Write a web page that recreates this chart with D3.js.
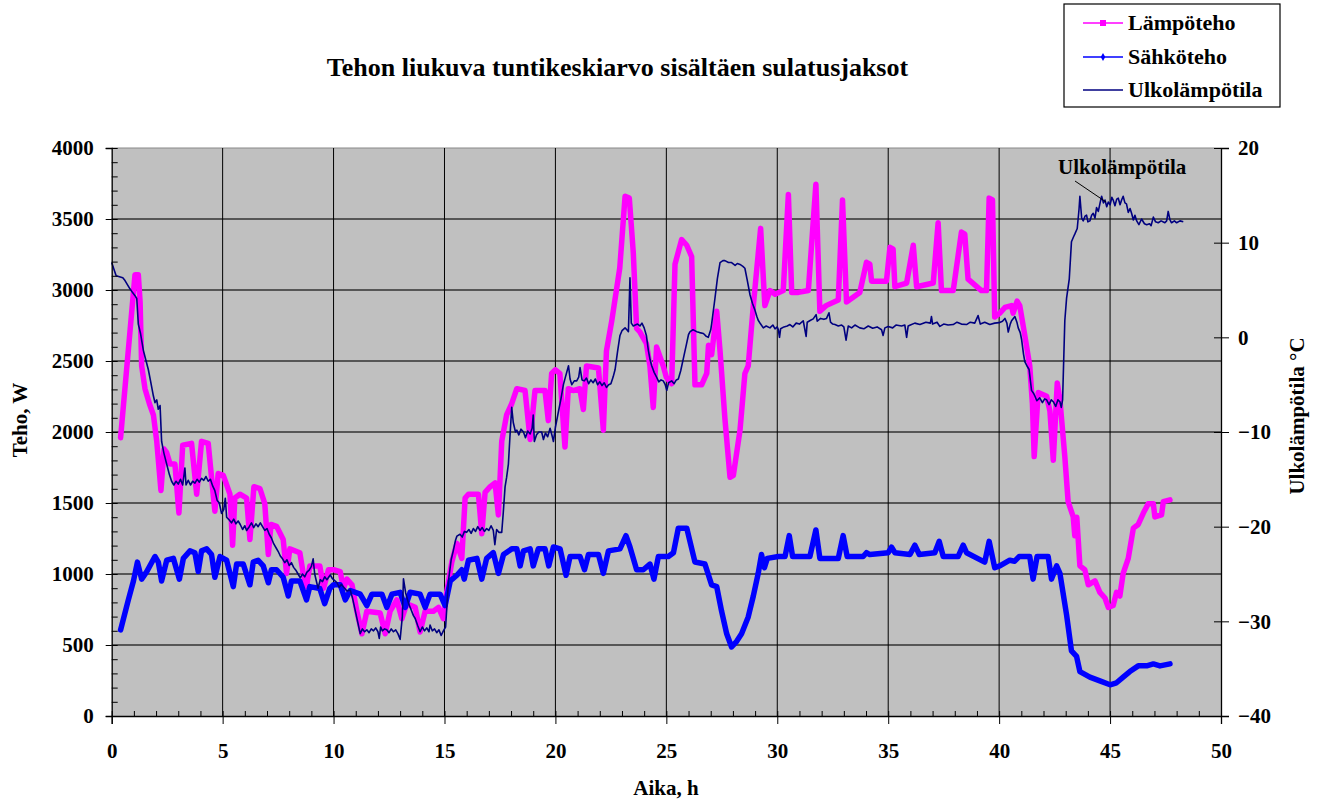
<!DOCTYPE html>
<html><head><meta charset="utf-8">
<script src="https://cdn.jsdelivr.net/npm/d3@7"></script>
<style>
body{margin:0;background:#fff;}
text{font-family:"Liberation Serif","Times New Roman",serif;font-weight:bold;fill:#000;}
</style></head>
<body>
<svg id="c" width="1319" height="802"></svg>
<script>
// ---- data ----
const titleText = "Tehon liukuva tuntikeskiarvo sisältäen sulatusjaksot";
const seriesNames = ["Lämpöteho", "Sähköteho", "Ulkolämpötila"];
const xTicks = [0,5,10,15,20,25,30,35,40,45,50];
const leftTicks = [0,500,1000,1500,2000,2500,3000,3500,4000];
const rightTicks = [-40,-30,-20,-10,0,10,20];

// Lämpöteho [h, W]
const lampoteho = [[0.4,1960],[1.05,3107],[1.2,3107],[1.28,2916],[1.35,2465],[1.5,2305],[1.7,2199],[1.88,2120],[2.03,1934],[2.22,1588],[2.36,1880],[2.48,1854],[2.63,1774],[2.85,1774],[3.03,1429],[3.2,1907],[3.6,1920],[3.83,1562],[4.05,1934],[4.35,1920],[4.65,1442],[4.8,1708],[5.03,1695],[5.33,1562],[5.45,1203],[5.55,1535],[5.78,1562],[6.08,1535],[6.23,1243],[6.41,1615],[6.68,1602],[6.9,1495],[7.06,1137],[7.18,1349],[7.43,1336],[7.73,1243],[7.88,1004],[8.03,1177],[8.48,1150],[8.63,1004],[8.78,911],[8.93,1057],[9.38,1057],[9.55,900],[9.77,1030],[10.0,1030],[10.3,1017],[10.45,898],[10.6,964],[10.83,924],[11.05,738],[11.28,579],[11.5,738],[12.1,725],[12.33,579],[12.55,738],[12.85,818],[13.08,685],[13.3,791],[13.68,765],[13.9,592],[14.13,738],[14.5,738],[14.73,765],[14.95,685],[15.1,871],[15.33,1084],[15.56,1216],[15.78,1110],[15.93,1535],[16.08,1562],[16.53,1562],[16.68,1283],[16.83,1575],[17.06,1615],[17.28,1641],[17.43,1416],[17.58,1934],[17.8,2120],[18.03,2199],[18.26,2305],[18.63,2292],[18.86,1947],[19.08,2292],[19.53,2292],[19.68,2080],[19.83,2412],[20.0,2438],[20.2,2412],[20.43,1894],[20.58,2305],[20.8,2292],[21.1,2305],[21.26,2159],[21.4,2465],[21.94,2451],[22.16,2013],[22.3,2571],[22.54,2783],[22.9,3155],[23.14,3660],[23.33,3647],[23.51,3262],[23.66,2730],[23.81,2704],[24.1,2624],[24.26,2465],[24.41,2173],[24.56,2598],[24.86,2465],[25.0,2385],[25.24,2340],[25.39,3182],[25.69,3355],[25.92,3315],[26.14,3235],[26.29,2332],[26.59,2332],[26.82,2412],[26.9,2611],[27.04,2544],[27.27,2850],[27.42,2571],[27.64,2093],[27.87,1681],[28.02,1695],[28.32,2013],[28.54,2412],[28.69,2465],[28.92,2890],[29.25,3434],[29.44,2890],[29.67,2996],[29.9,2970],[30.27,2996],[30.5,3673],[30.65,2983],[30.95,2983],[31.4,2996],[31.74,3745],[31.92,2850],[32.2,2890],[32.75,2930],[32.94,3634],[33.12,2916],[33.72,2983],[34.02,3195],[34.17,3182],[34.25,3062],[34.92,3062],[35.08,3301],[35.22,3288],[35.3,3023],[35.83,3049],[36.13,3315],[36.28,3023],[37.03,3049],[37.25,3474],[37.4,2996],[37.93,2996],[38.3,3408],[38.45,3394],[38.6,3076],[39.2,2996],[39.43,2996],[39.55,3647],[39.7,3634],[39.8,2810],[40.03,2837],[40.26,2877],[40.56,2890],[40.63,2837],[40.81,2922],[40.93,2890],[41.16,2677],[41.38,2465],[41.5,2199],[41.58,1827],[41.76,2279],[42.14,2252],[42.29,2146],[42.44,1801],[42.62,2345],[42.74,2226],[42.96,1827],[43.11,1509],[43.34,1402],[43.41,1270],[43.5,1400],[43.64,1057],[43.86,1030],[44.02,924],[44.32,951],[44.54,871],[44.77,831],[44.92,765],[45.14,778],[45.29,871],[45.44,845],[45.59,1004],[45.82,1110],[46.05,1323],[46.27,1349],[46.5,1429],[46.72,1495],[46.95,1495],[47.02,1402],[47.32,1416],[47.4,1509],[47.7,1522]];

// Sähköteho [h, W]
const sahkoteho = [[0.4,606],[0.75,818],[0.98,951],[1.16,1084],[1.35,964],[1.58,1017],[1.95,1123],[2.1,1084],[2.25,951],[2.48,1097],[2.78,1110],[3.05,964],[3.23,1110],[3.53,1163],[3.75,1150],[3.9,1017],[4.05,1163],[4.28,1177],[4.5,1137],[4.65,977],[4.88,1123],[5.18,1097],[5.48,911],[5.63,1070],[5.93,1070],[6.23,924],[6.38,1084],[6.6,1097],[6.83,1057],[7.06,938],[7.2,1030],[7.43,1030],[7.73,977],[7.96,845],[8.1,951],[8.48,951],[8.78,818],[8.93,911],[9.38,898],[9.6,791],[9.83,898],[10.0,924],[10.3,924],[10.53,818],[10.75,884],[11.2,858],[11.5,778],[11.73,858],[12.18,858],[12.4,765],[12.63,858],[13.0,871],[13.23,765],[13.45,871],[13.9,858],[14.13,765],[14.35,858],[14.8,858],[15.03,778],[15.26,951],[15.56,991],[15.78,1030],[15.89,964],[16.08,1097],[16.46,1110],[16.68,964],[16.9,1110],[17.2,1150],[17.43,1004],[17.66,1137],[18.03,1177],[18.26,1177],[18.41,1057],[18.56,1163],[18.86,1177],[19.0,1057],[19.23,1177],[19.53,1177],[19.7,1057],[19.91,1190],[20.21,1177],[20.48,991],[20.66,1123],[21.11,1123],[21.31,1030],[21.49,1137],[21.94,1137],[22.16,1004],[22.39,1163],[22.91,1177],[23.18,1270],[23.36,1190],[23.66,1030],[23.96,1030],[24.26,1070],[24.44,964],[24.64,1123],[25.09,1123],[25.32,1150],[25.54,1323],[25.92,1323],[26.29,1084],[26.74,1070],[27.04,924],[27.27,911],[27.49,738],[27.72,579],[27.94,486],[28.17,526],[28.39,579],[28.69,698],[28.92,845],[29.14,1004],[29.29,1137],[29.42,1044],[29.55,1110],[30.05,1123],[30.35,1123],[30.54,1270],[30.69,1123],[31.47,1123],[31.74,1310],[31.92,1110],[32.75,1110],[32.97,1270],[33.15,1123],[33.87,1123],[34.02,1150],[34.17,1137],[35.0,1150],[35.15,1190],[35.3,1150],[35.98,1137],[36.2,1203],[36.4,1137],[37.1,1150],[37.3,1230],[37.48,1123],[38.15,1123],[38.38,1203],[38.53,1150],[39.35,1084],[39.55,1230],[39.8,1044],[40.03,1057],[40.48,1097],[40.7,1090],[40.9,1123],[41.38,1123],[41.53,964],[41.71,1123],[42.21,1123],[42.36,964],[42.59,1057],[42.74,1004],[43.04,712],[43.26,459],[43.49,420],[43.64,313],[44.09,274],[44.54,247],[45.0,220],[45.29,234],[45.59,274],[45.89,313],[46.27,353],[46.65,353],[46.95,367],[47.25,353],[47.7,367]];

// Ulkolämpötila [h, °C]
const ulkolampotila = [[0.0,7.9],[0.1,7.2],[0.2,6.5],[0.35,6.4],[0.5,6.3],[0.6,6.0],[0.7,5.6],[0.83,5.1],[0.95,4.7],[1.05,4.4],[1.13,4.1],[1.2,1.4],[1.3,0.4],[1.43,-1.4],[1.55,-2.5],[1.65,-3.4],[1.75,-4.6],[1.88,-6.2],[1.95,-6.9],[2.03,-6.6],[2.1,-7.6],[2.18,-7.2],[2.25,-11],[2.35,-12.2],[2.48,-13.4],[2.6,-14.5],[2.7,-15.2],[2.8,-15.6],[2.9,-15.2],[3.0,-15.5],[3.1,-15.0],[3.2,-15.6],[3.3,-13.8],[3.35,-15.6],[3.45,-15.1],[3.55,-15.6],[3.65,-15.2],[3.75,-15.4],[3.85,-15.0],[3.95,-15.3],[4.05,-14.9],[4.15,-15.1],[4.25,-14.7],[4.35,-15.2],[4.45,-15.0],[4.55,-15.7],[4.65,-16.2],[4.75,-17.2],[4.85,-17.5],[4.95,-18.6],[5.05,-18.2],[5.12,-17.0],[5.18,-19.0],[5.3,-19.3],[5.4,-19.6],[5.5,-19.2],[5.6,-19.7],[5.7,-19.4],[5.8,-19.8],[5.9,-20.3],[6.0,-19.9],[6.08,-20.4],[6.2,-20.0],[6.3,-19.6],[6.4,-20.1],[6.5,-19.7],[6.6,-20.0],[6.7,-19.6],[6.8,-20.0],[6.9,-20.4],[7.0,-20.2],[7.1,-20.8],[7.2,-21.2],[7.3,-21.8],[7.4,-22.2],[7.5,-22.6],[7.6,-23.1],[7.7,-23.4],[7.8,-23.8],[7.9,-23.5],[8.0,-24.1],[8.1,-23.8],[8.2,-24.3],[8.3,-24.6],[8.4,-25.0],[8.5,-25.4],[8.6,-25.0],[8.7,-25.3],[8.8,-24.8],[8.9,-24.6],[9.0,-24.2],[9.08,-23.4],[9.15,-25.0],[9.3,-26.5],[9.4,-25.6],[9.5,-25.8],[9.6,-25.3],[9.7,-25.6],[9.85,-25.1],[9.95,-25.5],[10.05,-25.7],[10.15,-25.9],[10.25,-26.4],[10.35,-26.1],[10.5,-26.5],[10.6,-26.8],[10.75,-26.7],[10.85,-27.5],[10.98,-28.9],[11.1,-30.2],[11.2,-31.3],[11.3,-30.8],[11.4,-31.1],[11.5,-30.9],[11.6,-31.2],[11.7,-30.8],[11.8,-31.0],[11.9,-30.7],[12.0,-31.1],[12.06,-31.8],[12.12,-30.6],[12.2,-31.0],[12.3,-30.8],[12.4,-30.9],[12.5,-31.2],[12.6,-30.8],[12.7,-31.1],[12.8,-30.9],[12.9,-31.3],[13.0,-31.9],[13.1,-29.5],[13.15,-25.5],[13.25,-27.0],[13.38,-28.1],[13.5,-28.8],[13.6,-29.4],[13.68,-29.7],[13.8,-30.5],[13.9,-31.1],[14.0,-30.6],[14.1,-31.0],[14.2,-30.7],[14.3,-31.1],[14.35,-30.4],[14.45,-31.0],[14.55,-30.8],[14.65,-31.2],[14.75,-30.9],[14.85,-31.5],[14.95,-31.0],[15.05,-30.6],[15.18,-25.7],[15.3,-23.5],[15.4,-22.5],[15.5,-21.4],[15.56,-21.0],[15.7,-20.8],[15.8,-21.1],[15.9,-20.5],[16.0,-20.6],[16.1,-20.3],[16.2,-20.7],[16.3,-20.2],[16.4,-20.5],[16.5,-20.0],[16.6,-20.4],[16.7,-20.1],[16.8,-20.5],[16.9,-20.2],[17.0,-20.4],[17.1,-19.9],[17.2,-20.4],[17.27,-21.9],[17.35,-20.3],[17.45,-20.6],[17.58,-20.6],[17.65,-18.5],[17.73,-15.8],[17.8,-14.8],[17.88,-13.4],[17.95,-10.5],[18.03,-7.4],[18.1,-9.0],[18.2,-10.0],[18.26,-9.8],[18.35,-10.3],[18.45,-9.7],[18.56,-10.0],[18.65,-10.6],[18.75,-9.9],[18.86,-10.2],[18.95,-9.6],[19.0,-8.2],[19.05,-11.0],[19.15,-10.3],[19.25,-10.0],[19.38,-10.0],[19.46,-10.8],[19.55,-10.1],[19.65,-10.5],[19.76,-9.6],[19.85,-10.4],[19.91,-11.0],[20.0,-9.5],[20.14,-7.8],[20.25,-6.5],[20.36,-5.0],[20.45,-4.2],[20.59,-3.0],[20.66,-4.4],[20.74,-5.0],[20.85,-4.6],[20.96,-4.6],[21.05,-4.2],[21.11,-3.2],[21.2,-4.5],[21.3,-4.6],[21.4,-4.3],[21.5,-4.9],[21.6,-4.5],[21.7,-4.8],[21.8,-4.4],[21.9,-5.0],[22.0,-4.7],[22.1,-5.1],[22.2,-4.8],[22.3,-5.3],[22.4,-5.0],[22.5,-4.9],[22.6,-4.2],[22.69,-3.4],[22.8,-1.5],[22.91,0.2],[23.0,0.7],[23.14,1.0],[23.22,0.8],[23.29,0.6],[23.36,6.3],[23.42,1.5],[23.51,1.2],[23.6,1.3],[23.7,1.4],[23.81,1.2],[23.9,1.5],[24.0,1.0],[24.1,0.2],[24.19,-1.4],[24.27,-2.4],[24.34,-3.0],[24.45,-3.7],[24.56,-4.2],[24.66,-4.7],[24.76,-4.5],[24.86,-4.6],[24.95,-5.0],[25.02,-5.6],[25.1,-4.8],[25.24,-4.6],[25.35,-4.9],[25.45,-4.5],[25.54,-4.4],[25.65,-3.5],[25.77,-2.2],[25.9,-0.8],[26.0,0.3],[26.07,0.6],[26.2,0.8],[26.37,0.6],[26.5,0.5],[26.67,0.4],[26.8,0.1],[26.89,0.0],[27.0,0.8],[27.04,1.4],[27.19,4.1],[27.3,6.2],[27.42,7.9],[27.55,8.1],[27.64,8.1],[27.8,7.9],[27.94,7.9],[28.1,7.6],[28.2,7.8],[28.32,7.7],[28.45,7.5],[28.54,7.3],[28.65,6.0],[28.77,4.5],[28.88,3.6],[28.99,2.9],[29.08,2.2],[29.14,1.8],[29.25,1.4],[29.37,1.0],[29.5,1.2],[29.67,1.0],[29.8,1.3],[29.9,0.9],[30.0,1.1],[30.05,0.8],[30.1,0.0],[30.15,0.9],[30.3,1.1],[30.45,1.2],[30.57,1.35],[30.7,1.1],[30.85,1.5],[31.0,1.4],[31.17,1.75],[31.3,0.1],[31.35,1.6],[31.5,1.8],[31.62,1.95],[31.75,2.4],[31.8,1.7],[31.95,2.0],[32.1,1.9],[32.22,2.0],[32.33,2.6],[32.4,1.6],[32.5,1.4],[32.6,1.35],[32.75,1.2],[32.9,1.3],[33.0,1.1],[33.1,-0.3],[33.2,1.2],[33.35,1.0],[33.5,1.3],[33.72,1.0],[33.9,0.9],[34.1,1.2],[34.3,0.96],[34.5,1.1],[34.7,0.8],[34.77,0.2],[34.85,1.0],[35.0,1.15],[35.2,1.0],[35.35,1.3],[35.6,1.2],[35.75,1.3],[35.83,0.0],[35.9,1.2],[36.0,1.3],[36.2,1.5],[36.43,1.35],[36.7,1.6],[36.9,1.5],[36.95,2.2],[37.0,1.4],[37.2,1.6],[37.33,1.15],[37.5,1.4],[37.7,1.3],[37.93,1.35],[38.1,1.6],[38.3,1.4],[38.53,1.35],[38.7,1.6],[38.9,1.5],[39.05,2.3],[39.15,1.4],[39.35,1.6],[39.58,1.35],[39.8,1.5],[40.0,1.55],[40.15,1.7],[40.26,2.0],[40.35,1.5],[40.41,0.56],[40.5,1.4],[40.56,1.75],[40.71,2.2],[40.8,1.6],[40.86,1.0],[40.95,0.5],[41.01,-0.2],[41.1,-1.8],[41.16,-2.6],[41.25,-3.0],[41.35,-3.4],[41.46,-5.6],[41.55,-5.9],[41.61,-6.2],[41.7,-6.7],[41.83,-6.4],[41.95,-6.9],[42.05,-6.5],[42.14,-6.6],[42.25,-7.1],[42.35,-6.6],[42.44,-6.8],[42.55,-7.3],[42.65,-6.6],[42.74,-6.8],[42.8,-7.4],[42.86,-6.6],[42.96,1.75],[43.04,4.14],[43.16,6.14],[43.26,10.1],[43.35,10.6],[43.41,10.9],[43.52,11.5],[43.6,13.5],[43.64,14.9],[43.72,12.6],[43.79,12.3],[43.87,12.8],[43.94,12.9],[44.0,12.2],[44.09,12.3],[44.17,12.9],[44.24,13.1],[44.32,12.6],[44.39,13.7],[44.47,13.3],[44.55,14.2],[44.62,14.9],[44.7,14.2],[44.77,14.5],[44.85,13.8],[44.92,14.3],[45.0,14.0],[45.08,14.8],[45.14,14.5],[45.22,13.9],[45.3,14.6],[45.37,14.7],[45.45,14.0],[45.52,14.5],[45.59,14.9],[45.67,14.2],[45.74,14.1],[45.82,13.2],[45.9,13.6],[45.97,13.1],[46.05,12.4],[46.12,12.9],[46.2,12.3],[46.3,11.9],[46.42,12.5],[46.55,12.0],[46.65,11.9],[46.78,12.0],[46.85,11.8],[46.95,12.7],[47.05,12.2],[47.17,12.1],[47.3,12.3],[47.47,12.1],[47.55,12.3],[47.62,13.3],[47.7,12.4],[47.77,12.1],[47.9,12.3],[48.0,12.1],[48.15,12.3],[48.3,12.2]];

// ---- drawing ----
const svg = d3.select("#c");
const L = 111.7, R = 1221, T = 148, B = 716;
const x = d3.scaleLinear().domain([0,50]).range([L,R]);
const yL = d3.scaleLinear().domain([0,4000]).range([B,T]);
const yR = d3.scaleLinear().domain([-40,20]).range([B,T]);

svg.append("rect").attr("x",L).attr("y",T).attr("width",R-L).attr("height",B-T).attr("fill","#C0C0C0");

// horizontal grid
svg.append("g").selectAll("line").data(leftTicks.filter(d=>d>0&&d<4000)).join("line")
  .attr("x1",L).attr("x2",R).attr("y1",d=>yL(d)).attr("y2",d=>yL(d))
  .attr("stroke","#333").attr("stroke-width",1.3);
svg.append("line").attr("x1",L).attr("x2",R).attr("y1",T).attr("y2",T).attr("stroke","#888").attr("stroke-width",1);
// vertical grid
svg.append("g").selectAll("line").data(xTicks.filter(d=>d>0&&d<50)).join("line")
  .attr("x1",d=>x(d)).attr("x2",d=>x(d)).attr("y1",T).attr("y2",B)
  .attr("stroke","#000").attr("stroke-width",1);

// series
const line = (ys)=>d3.line().x(d=>x(d[0])).y(d=>ys(d[1]));
svg.append("path").datum(lampoteho).attr("d",line(yL)).attr("fill","none")
  .attr("stroke","#FF00FF").attr("stroke-width",5.5).attr("stroke-linejoin","round").attr("stroke-linecap","round");
svg.append("path").datum(sahkoteho).attr("d",line(yL)).attr("fill","none")
  .attr("stroke","#0000FF").attr("stroke-width",5.5).attr("stroke-linejoin","round").attr("stroke-linecap","round");
svg.append("path").datum(ulkolampotila).attr("d",line(yR)).attr("fill","none")
  .attr("stroke","#000080").attr("stroke-width",1.6).attr("stroke-linejoin","round");

// axes
svg.append("g").attr("transform",`translate(${L},0)`)
  .call(d3.axisLeft(yL).tickValues(leftTicks).tickSize(6).tickPadding(12).tickFormat(d3.format("d")));
const axLmin = svg.append("g").attr("transform",`translate(${L},0)`)
  .call(d3.axisRight(yL).tickValues(d3.range(0,4001,100)).tickSize(6).tickFormat(""));
axLmin.select(".domain").remove();

svg.append("g").attr("transform",`translate(0,${B})`)
  .call(d3.axisBottom(x).tickValues(xTicks).tickSize(8).tickPadding(19).tickFormat(d3.format("d")));
const axBmin = svg.append("g").attr("transform",`translate(0,${B})`)
  .call(d3.axisTop(x).tickValues(d3.range(0,51,1)).tickSize(5).tickFormat(""));
axBmin.select(".domain").remove();

svg.append("g").attr("transform",`translate(${R},0)`)
  .call(d3.axisRight(yR).tickValues(rightTicks).tickSize(8).tickPadding(9).tickFormat(d3.format("d")));
const axRin = svg.append("g").attr("transform",`translate(${R},0)`)
  .call(d3.axisLeft(yR).tickValues(rightTicks).tickSize(7).tickFormat(""));
axRin.select(".domain").remove();

svg.selectAll(".domain").attr("stroke","#000").attr("stroke-width",1.3);
svg.selectAll(".tick line").attr("stroke","#000");
svg.selectAll(".tick text").style("font-family","'Liberation Serif','Times New Roman',serif")
  .style("font-weight","bold").style("font-size","21px").attr("fill","#000");

// titles
svg.append("text").attr("x",617.5).attr("y",76).attr("text-anchor","middle").style("font-size","26px").text(titleText);
svg.append("text").attr("transform","translate(27,420) rotate(-90)").attr("text-anchor","middle").style("font-size","21px").text("Teho, W");
svg.append("text").attr("transform","translate(1304,416) rotate(-90)").attr("text-anchor","middle").style("font-size","21px").text("Ulkolämpötila °C");
svg.append("text").attr("x",666).attr("y",795).attr("text-anchor","middle").style("font-size","21px").text("Aika, h");

// annotation
svg.append("text").attr("x",1058).attr("y",174).style("font-size","21px").text(seriesNames[2]);
svg.append("line").attr("x1",1075).attr("y1",181).attr("x2",1106).attr("y2",202).attr("stroke","#000").attr("stroke-width",1);

// legend
const lg = svg.append("g");
lg.append("rect").attr("x",1064).attr("y",4).attr("width",216).attr("height",103).attr("fill","#fff").attr("stroke","#000").attr("stroke-width",1.2);
const legCol = ["#FF00FF","#0000FF","#000080"];
const legY = [23,57,90];
seriesNames.forEach((n,i)=>{
  lg.append("line").attr("x1",1083).attr("x2",1123).attr("y1",legY[i]).attr("y2",legY[i]).attr("stroke",legCol[i]).attr("stroke-width",1.5);
  if(i===0) lg.append("rect").attr("x",1100).attr("y",legY[i]-3).attr("width",6).attr("height",6).attr("fill",legCol[i]);
  if(i===1) lg.append("path").attr("d",d3.symbol(d3.symbolDiamond,18)()).attr("transform",`translate(1103,${legY[i]})`).attr("fill",legCol[i]);
  lg.append("text").attr("x",1128).attr("y",legY[i]+7).style("font-size","22px").text(n);
});
</script>
</body></html>
